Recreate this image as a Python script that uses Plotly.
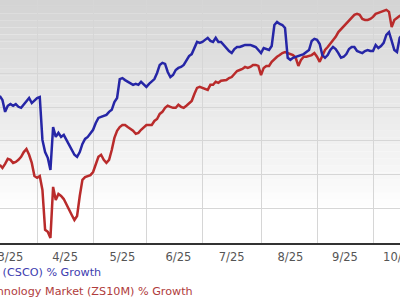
import plotly.graph_objects as go

# Trading dates (x categories) and % growth values
dates = [
    "2025-03-12","2025-03-13","2025-03-14","2025-03-17","2025-03-18","2025-03-19","2025-03-20","2025-03-21",
    "2025-03-24","2025-03-25","2025-03-26","2025-03-27","2025-03-28","2025-03-31",
    "2025-04-01","2025-04-02","2025-04-03","2025-04-04","2025-04-07","2025-04-08","2025-04-09","2025-04-10",
    "2025-04-11","2025-04-14","2025-04-15","2025-04-16","2025-04-17","2025-04-21","2025-04-22","2025-04-23",
    "2025-04-24","2025-04-25","2025-04-28","2025-04-29","2025-04-30",
    "2025-05-01","2025-05-02","2025-05-05","2025-05-06","2025-05-07","2025-05-08","2025-05-09","2025-05-12",
    "2025-05-13","2025-05-14","2025-05-15","2025-05-16","2025-05-19","2025-05-20","2025-05-21","2025-05-22",
    "2025-05-23","2025-05-27","2025-05-28","2025-05-29","2025-05-30",
    "2025-06-02","2025-06-03","2025-06-04","2025-06-05","2025-06-06","2025-06-09","2025-06-10","2025-06-11",
    "2025-06-12","2025-06-13","2025-06-16","2025-06-17","2025-06-18","2025-06-20","2025-06-23","2025-06-24",
    "2025-06-25","2025-06-26","2025-06-27","2025-06-30",
    "2025-07-01","2025-07-02","2025-07-03","2025-07-07","2025-07-08","2025-07-09","2025-07-10","2025-07-11",
    "2025-07-14","2025-07-15","2025-07-16","2025-07-17","2025-07-18","2025-07-21","2025-07-22","2025-07-23",
    "2025-07-24","2025-07-25","2025-07-28","2025-07-29","2025-07-30","2025-07-31",
    "2025-08-01","2025-08-04","2025-08-05","2025-08-06","2025-08-07","2025-08-08","2025-08-11","2025-08-12",
    "2025-08-13","2025-08-14","2025-08-15","2025-08-18","2025-08-19","2025-08-20","2025-08-21","2025-08-22",
    "2025-08-25","2025-08-26","2025-08-27","2025-08-28","2025-08-29",
    "2025-09-02","2025-09-03","2025-09-04","2025-09-05","2025-09-08","2025-09-09","2025-09-10","2025-09-11",
    "2025-09-12","2025-09-15","2025-09-16","2025-09-17","2025-09-18","2025-09-19","2025-09-22","2025-09-23",
    "2025-09-24","2025-09-25","2025-09-26","2025-09-29","2025-09-30",
    "2025-10-01","2025-10-02","2025-10-03","2025-10-06","2025-10-07","2025-10-08","2025-10-09","2025-10-10",
    "2025-10-13","2025-10-14","2025-10-15","2025-10-16",
]

csco_growth = [
    13.3, 12.1, 8.6, 10.4, 10.9, 10.4, 10.9, 10.1,
    9.8, 10.7, 11.5, 12.7, 11.2, 12.1,
    12.7, 13.0, 0.3, -3.3, -5.0, -8.6, 4.1, 1.2,
    2.4, 1.2, 1.8, 0.3, -1.2, -2.7, -4.1, -4.7,
    -3.3, -0.9, 0.6, 1.2, 2.1,
    3.3, 5.3, 6.8, 7.1, 7.4, 7.7, 8.6, 9.2,
    11.5, 12.7, 18.3, 18.6, 18.0, 17.5, 17.2, 16.6,
    16.9, 16.6, 17.5, 16.6, 16.0,
    16.9, 17.5, 18.3, 20.1, 22.5, 23.1, 22.8, 20.4,
    18.9, 19.5, 21.0, 21.6, 21.9, 22.5, 23.7, 25.1,
    25.7, 27.5, 29.3, 29.0,
    29.3, 29.9, 30.5, 29.6, 29.3, 30.5, 29.3, 29.3,
    28.4, 27.2, 26.6, 26.0, 27.2, 27.8, 27.8, 28.1,
    28.4, 28.4, 28.4, 28.1, 27.8, 26.9,
    26.0, 27.5, 27.2, 26.9, 28.1, 34.3, 35.2, 34.6,
    34.3, 33.4, 24.6, 24.0, 24.6, 24.9, 25.1, 25.4,
    25.7, 26.3, 26.9, 29.6, 30.2,
    29.9, 28.7, 25.4, 24.6, 25.4, 26.9, 27.8, 27.2,
    26.0, 24.6, 24.9, 25.7, 27.2, 27.8, 27.8, 26.6,
    26.3, 26.0, 26.6, 26.9, 26.6,
    26.6, 28.4, 27.5, 28.1, 29.0, 31.4, 32.2, 29.6,
    26.9, 26.3, 30.5, 31.4,
]

market_growth = [
    -7.1, -8.0, -6.8, -5.3, -5.6, -6.5, -6.2, -5.6,
    -4.7, -3.3, -2.4, -4.1, -6.5, -10.4,
    -10.9, -10.4, -14.5, -26.3, -26.9, -28.7, -13.6, -17.5,
    -15.7, -16.3, -17.2, -18.9, -20.1, -21.9, -23.4, -22.2,
    -16.3, -11.5, -10.7, -10.4, -10.1,
    -9.2, -7.1, -4.7, -4.1, -5.6, -6.5, -5.6, -2.7,
    0.9, 3.0, 4.1, 4.7, 4.7, 4.1, 3.6, 3.0,
    2.1, 2.4, 3.3, 4.1, 4.7,
    4.7, 4.7, 5.9, 6.5, 8.0, 8.6, 9.8, 10.4,
    10.1, 9.8, 9.8, 10.7, 10.1, 9.8, 10.4, 11.2,
    11.8, 13.9, 15.7, 16.0,
    15.7, 15.4, 15.1, 16.6, 16.6, 17.5, 17.2, 17.8,
    17.8, 18.0, 18.6, 18.9, 19.8, 20.7, 21.0, 21.3,
    21.9, 21.6, 21.9, 22.5, 22.5, 22.2,
    19.5, 21.6, 22.2, 22.2, 23.4, 24.3, 24.9, 25.4,
    26.0, 26.3, 26.0, 25.7, 25.4, 24.6, 22.2, 24.0,
    24.9, 24.9, 25.1, 25.4, 26.0,
    24.9, 23.4, 25.4, 26.9, 27.8, 28.7, 29.6, 30.8,
    32.2, 33.1, 34.0, 34.9, 35.8, 36.4, 37.3, 37.6,
    37.3, 36.1, 35.8, 35.8, 36.1,
    36.7, 37.6, 37.9, 38.2, 38.5, 38.8, 38.2, 33.7,
    35.8, 36.4, 37.0, 37.3,
]

holidays = ["2025-04-18", "2025-05-26", "2025-06-19", "2025-07-04", "2025-09-01"]

# month labels (placed mid-month) and their positions
tick_dates = ["2025-03-18", "2025-04-15 12:00", "2025-05-16", "2025-06-17",
              "2025-07-17", "2025-08-18", "2025-09-16 12:00", "2025-10-15"]
tick_labels = ["3/25", "4/25", "5/25", "6/25", "7/25", "8/25", "9/25", "10/25"]

csco_label = "Cisco Systems, Inc. (CSCO) % Growth"
market_label = "Computer and Technology Market (ZS10M) % Growth"

fig = go.Figure()
fig.add_trace(go.Scatter(x=dates, y=market_growth, mode="lines",
                         line=dict(color="#b92b2b", width=2.5), name=market_label))
fig.add_trace(go.Scatter(x=dates, y=csco_growth, mode="lines",
                         line=dict(color="#2626a6", width=2.5), name=csco_label))

# soft grey-to-white vertical gradient behind the plot
shapes = []
n = 30
for i in range(n):
    t = i / n
    c = int(212 + (255 - 212) * t)
    shapes.append(dict(type="rect", xref="paper", yref="paper",
                       x0=0, x1=1, y0=1 - t * 0.85, y1=1 - (i + 1) / n * 0.85,
                       fillcolor=f"rgb({c},{c},{c})", line=dict(width=0), layer="below"))

fig.update_layout(
    width=400, height=300,
    margin=dict(l=0, r=0, t=0, b=57, autoexpand=False),
    paper_bgcolor="white", plot_bgcolor="white",
    showlegend=False,
    shapes=shapes,
    xaxis=dict(
        type="date", automargin=False,
        range=["2025-03-12 02:00", "2025-10-15 03:00"],
        rangebreaks=[dict(bounds=["sat", "mon"]), dict(values=holidays)],
        tickmode="array", tickvals=tick_dates, ticktext=tick_labels,
        ticklabeloverflow="allow", ticklabelstandoff=2,
        showgrid=False,
        minor=dict(tick0="2025-01-01", dtick="M1", showgrid=True,
                   gridcolor="#d6d6d6", gridwidth=1, ticks=""),
        showline=True, linecolor="#333333", linewidth=2,
        ticks="", zeroline=False,
        tickfont=dict(family="DejaVu Sans", size=11.5, color="#555555"),
    ),
    yaxis=dict(
        range=[-30.2, 41.7], dtick=10, tick0=0, automargin=False,
        showgrid=True, gridcolor="#d6d6d6", gridwidth=1,
        showticklabels=False, zeroline=False, ticks="",
    ),
    annotations=[
        dict(text=csco_label, xref="paper", yref="paper", x=0.2575, y=-0.122,
             xanchor="right", yanchor="middle", showarrow=False,
             font=dict(family="DejaVu Sans", size=11.2, color="#3d3db0")),
        dict(text=market_label, xref="paper", yref="paper", x=0.4875, y=-0.2,
             xanchor="right", yanchor="middle", showarrow=False,
             font=dict(family="DejaVu Sans", size=11.2, color="#b03c3c")),
    ],
)

fig.write_html("out.html")
